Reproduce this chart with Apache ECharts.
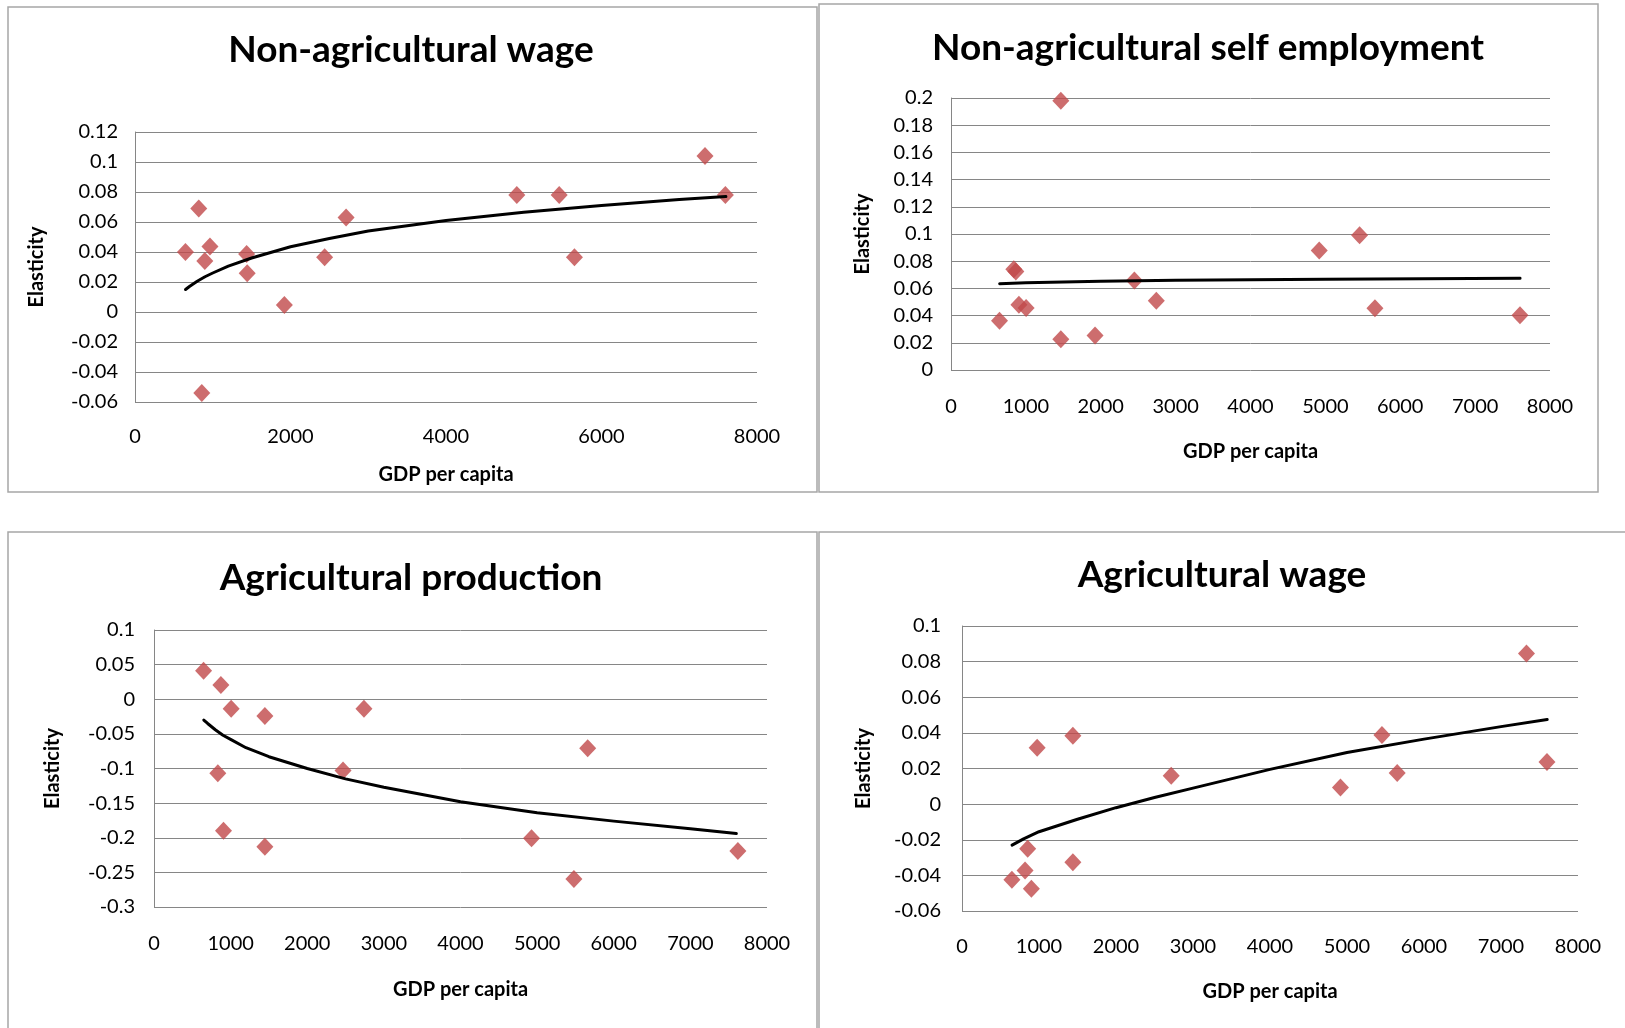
<!DOCTYPE html>
<html>
<head>
<meta charset="utf-8">
<script src="https://cdn.jsdelivr.net/npm/echarts@6/dist/echarts.min.js"></script>
<style>
html,body{margin:0;padding:0;background:#fff;}
#c{width:1625px;height:1028px;}
</style>
</head>
<body>
<div id="c"></div>
<script>
// ---- data ----
const titles = ['Non-agricultural wage', 'Non-agricultural self employment', 'Agricultural production', 'Agricultural wage'];
const xName = 'GDP per capita';
const yName = 'Elasticity';

const nawX = [649, 820, 859, 898, 964, 1436, 1443, 1921, 2439, 2715, 4911, 5456, 5652, 7331, 7593];
const nawY = [0.040, 0.069, -0.054, 0.034, 0.0436, 0.0387, 0.0258, 0.0046, 0.0365, 0.063, 0.078, 0.078, 0.0365, 0.104, 0.078];
const nawTrendX = [650, 700, 800, 900, 1000, 1200, 1500, 2000, 2500, 3000, 4000, 5000, 6000, 7000, 7600];
const nawTrendY = [0.015, 0.017, 0.0205, 0.0235, 0.026, 0.0306, 0.036, 0.0435, 0.049, 0.054, 0.061, 0.0665, 0.071, 0.075, 0.077];

const nseX = [648, 839, 866, 907, 1003, 1467, 1467, 1924, 2449, 2742, 4918, 5457, 5662, 7599];
const nseY = [0.0363, 0.0741, 0.0724, 0.0479, 0.0456, 0.198, 0.0226, 0.0253, 0.0658, 0.051, 0.0879, 0.0991, 0.0454, 0.0402];
const nseTrendX = [650, 1000, 2000, 3000, 5000, 7600];
const nseTrendY = [0.0635, 0.0642, 0.0653, 0.066, 0.0668, 0.0675];

const apX = [647, 833, 873, 907, 1007, 1447, 1447, 2467, 2740, 4927, 5480, 5660, 7620];
const apY = [0.041, -0.107, 0.0205, -0.190, -0.0137, -0.0243, -0.213, -0.103, -0.0137, -0.2007, -0.2595, -0.0706, -0.219];
const apTrendX = [650, 700, 800, 900, 1000, 1200, 1500, 2000, 2500, 3000, 4000, 5000, 6000, 7000, 7600];
const apTrendY = [-0.030, -0.035, -0.044, -0.052, -0.058, -0.070, -0.083, -0.100, -0.115, -0.127, -0.148, -0.164, -0.176, -0.187, -0.194];

const awX = [648, 819, 853, 901, 976, 1440, 1440, 2717, 4915, 5454, 5652, 7331, 7597];
const awY = [-0.0425, -0.0372, -0.0251, -0.0475, 0.0317, 0.0384, -0.0326, 0.016, 0.0094, 0.0388, 0.0175, 0.0845, 0.0236];
const awTrendX = [650, 800, 1000, 1500, 2000, 2500, 3000, 4000, 5000, 6000, 7000, 7600];
const awTrendY = [-0.023, -0.0195, -0.0155, -0.0085, -0.002, 0.0037, 0.009, 0.0195, 0.029, 0.0365, 0.0435, 0.0475];

// axis ranges
const xRanges = [[0, 8000, 2000], [0, 8000, 1000], [0, 8000, 1000], [0, 8000, 1000]];
const yRanges = [[-0.06, 0.12, 0.02], [0, 0.2, 0.02], [-0.3, 0.1, 0.05], [-0.06, 0.1, 0.02]];

// ---- layout ----
const FONT = 'Lato';
const grids = [
  {left: 135, top: 132, width: 622, height: 270},
  {left: 951, top: 98, width: 599, height: 272},
  {left: 154, top: 630, width: 613, height: 277},
  {left: 962, top: 626, width: 616, height: 285}
];
const xLabelMargin = [25, 27, 27, 26];
const yLabelMargin = [17, 18, 19, 21];
const xNameGap = [63, 72, 73, 71];
const yNameGap = [88, 78, 91, 88];
const titlePos = [[411, 50], [1208, 48], [411, 578], [1222, 575]];
const panels = [[8, 7, 809, 485], [819, 4, 779, 488], [8, 532, 809, 520], [819, 532, 820, 520]];

const pairs = (xs, ys) => xs.map((x, i) => [x, ys[i]]);
const scatterData = [pairs(nawX, nawY), pairs(nseX, nseY), pairs(apX, apY), pairs(awX, awY)];
const trendData = [pairs(nawTrendX, nawTrendY), pairs(nseTrendX, nseTrendY), pairs(apTrendX, apTrendY), pairs(awTrendX, awTrendY)];

const fmtY = v => String(+v.toFixed(2));
const fmtX = v => String(Math.round(v));

const option = {
  backgroundColor: '#fff',
  animation: false,
  grid: grids.map(g => Object.assign({containLabel: false}, g)),
  xAxis: xRanges.map((r, i) => ({
    type: 'value', gridIndex: i, min: r[0], max: r[1], interval: r[2],
    name: xName, nameLocation: 'middle', nameGap: xNameGap[i],
    nameTextStyle: {fontFamily: FONT, fontWeight: 'bold', fontSize: 20, color: '#000'},
    axisLine: {show: false}, axisTick: {show: false}, splitLine: {show: false},
    axisLabel: {fontFamily: FONT, fontSize: 20, color: '#000', margin: xLabelMargin[i], formatter: fmtX}
  })),
  yAxis: yRanges.map((r, i) => ({
    type: 'value', gridIndex: i, min: r[0], max: r[1], interval: r[2],
    name: yName, nameLocation: 'middle', nameGap: yNameGap[i], nameRotate: 90,
    nameTextStyle: {fontFamily: FONT, fontWeight: 'bold', fontSize: 20, color: '#000'},
    axisLine: {show: true, lineStyle: {color: '#868686', width: 1}},
    axisTick: {show: false},
    splitLine: {show: true, lineStyle: {color: '#868686', width: 1}},
    axisLabel: {fontFamily: FONT, fontSize: 20, color: '#000', margin: yLabelMargin[i], formatter: fmtY}
  })),
  series: [].concat(
    scatterData.map((d, i) => ({
      type: 'scatter', xAxisIndex: i, yAxisIndex: i, data: d,
      symbol: 'diamond', symbolSize: [17, 18],
      itemStyle: {color: '#C0484A'}, z: 2
    })),
    trendData.map((d, i) => ({
      type: 'line', xAxisIndex: i, yAxisIndex: i, data: d,
      smooth: false, showSymbol: false, symbol: 'none',
      lineStyle: {color: '#000', width: 3, join: 'round', cap: 'round'}, z: 3
    }))
  ),
  graphic: [].concat(
    panels.map(p => ({
      type: 'rect', shape: {x: p[0], y: p[1], width: p[2], height: p[3]},
      style: {fill: 'none', stroke: '#a6a6a6', lineWidth: 1.5}, silent: true
    })),
    titles.map((t, i) => ({
      type: 'text', x: titlePos[i][0], y: titlePos[i][1],
      style: {text: t, fontFamily: FONT, fontWeight: 'bold', fontSize: 37, fill: '#000',
              textAlign: 'center', textVerticalAlign: 'middle'}
    }))
  )
};

const chart = echarts.init(document.getElementById('c'), null, {renderer: 'canvas'});
chart.setOption(option);
</script>
</body>
</html>
